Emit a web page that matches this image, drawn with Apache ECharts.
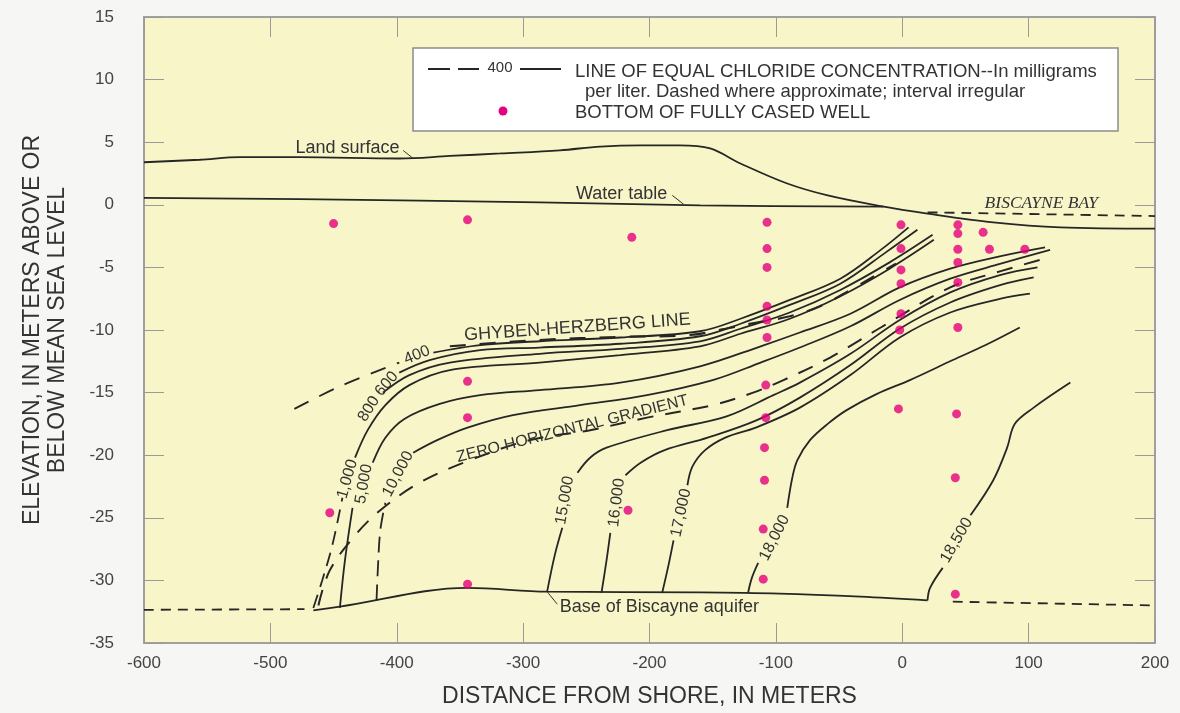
<!DOCTYPE html>
<html>
<head>
<meta charset="utf-8">
<script src="https://cdn.jsdelivr.net/npm/echarts@6/dist/echarts.min.js"></script>
<style>
  html, body { margin: 0; padding: 0; background: #f6f6f4; }
  #chart { width: 1180px; height: 713px; }
</style>
</head>
<body>
<div id="chart"></div>
<script>
// Hydrogeologic section: distance from shore (m) vs elevation (m, relative to mean sea level)

const landSurface = [[-600,3.4],[-556,3.6],[-524,3.8],[-477,3.8],[-398,3.7],[-358,3.9],[-318,4.1],[-271,4.35],[-239,4.65],[-207,4.75],[-176,4.75],[-152,4.5],[-128,3.3],[-91,1.7],[-59,0.75],[-17,-0.1],[20,-0.7],[72,-1.4],[125,-1.8],[200,-1.9]];
const waterTable = [[-600,0.55],[-477,0.45],[-287,0.2],[-160,-0.05],[-15,-0.15]];
const bayLevel = [[20,-0.6],[200,-0.9]];
const aquiferBaseWest = [[-600,-32.35],[-473,-32.3]];
const aquiferBase = [[-466,-32.4],[-445,-32.1],[-344,-30.6],[-281,-30.9],[-160,-30.95],[-97,-31.05],[-33,-31.3],[20,-31.6]];
const aquiferBaseEast = [[40,-31.7],[200,-32.0]];

// Lines of equal chloride concentration (mg/L)
const c400Approx = [[-481,-16.3],[-445,-14.5],[-398,-12.6]];
const c400 = [[-371,-11.8],[-334,-11.2],[-287,-10.9],[-223,-10.6],[-160,-10.1],[-128,-9.1],[-89,-7.6],[-49,-5.9],[-17,-3.6],[5,-1.8]];
const c600 = [[-398,-13.4],[-374,-12.4],[-334,-11.6],[-287,-11.4],[-223,-11.1],[-160,-10.5],[-128,-9.5],[-89,-8.0],[-49,-6.3],[-13,-3.8],[12,-2.0]];
const c800 = [[-411,-15.0],[-390,-13.6],[-358,-12.6],[-287,-11.9],[-223,-11.5],[-160,-10.9],[-128,-9.9],[-89,-8.6],[-49,-6.8],[-10,-4.6],[24,-2.4]];
const c1000Approx = [[-466,-32.2],[-459,-30.0],[-451,-27.2],[-443,-23.4]];
const c1000 = [[-433,-20.2],[-423,-18.0],[-409,-16.0],[-390,-14.4],[-358,-13.2],[-287,-12.6],[-223,-12.0],[-160,-11.3],[-128,-10.3],[-89,-9.1],[-49,-7.3],[-10,-5.1],[25,-2.8]];
const c5000Low = [[-445,-32.2],[-441,-28.4],[-435,-24.2]];
const c5000 = [[-419,-20.6],[-409,-18.6],[-394,-17.1],[-366,-15.9],[-334,-15.2],[-287,-14.8],[-223,-14.2],[-160,-12.9],[-112,-11.3],[-81,-10.2],[-41,-8.7],[-2,-6.6],[38,-5.1],[78,-4.1],[113,-3.4]];
const c10000Approx = [[-416,-31.6],[-415,-29.2],[-413,-26.0],[-409,-23.8]];
const c10000 = [[-387,-19.8],[-368,-18.8],[-344,-17.8],[-308,-16.8],[-255,-16.0],[-202,-15.2],[-150,-14.0],[-112,-12.6],[-81,-11.4],[-41,-9.7],[-2,-7.6],[38,-5.9],[78,-4.7],[117,-3.6]];
const c15000Low = [[-281,-30.9],[-275,-28.0],[-269,-25.8]];
const c15000 = [[-257,-21.4],[-247,-20.2],[-234,-19.4],[-186,-18.0],[-139,-16.9],[-102,-15.2],[-81,-14.2],[-41,-11.9],[-2,-9.2],[38,-7.0],[78,-5.6],[107,-5.0]];
const c16000Low = [[-238,-31.0],[-234,-28.4],[-231,-26.2]];
const c16000 = [[-219,-21.6],[-207,-20.6],[-188,-19.6],[-154,-18.6],[-115,-17.2],[-81,-15.4],[-41,-12.8],[-2,-9.9],[38,-7.8],[78,-6.4],[104,-5.8]];
const c17000Low = [[-190,-31.0],[-185,-28.8],[-181,-26.8]];
const c17000 = [[-170,-22.4],[-166,-20.9],[-156,-19.6],[-140,-18.6],[-116,-17.8],[-81,-16.2],[-41,-13.6],[-2,-10.6],[38,-8.6],[78,-7.5],[101,-7.1]];
const c18000Low = [[-122,-31.0],[-119,-29.8],[-114,-28.6]];
const c18000 = [[-91,-24.2],[-87,-21.8],[-83,-20.4],[-73,-18.8],[-59,-17.5],[-44,-16.4],[-20,-15.1],[6,-14.0],[40,-12.4],[66,-11.2],[93,-9.8]];
const c18500Low = [[20,-31.6],[22,-30.6],[32,-29.0]];
const c18500 = [[54,-24.8],[72,-22.0],[83,-19.4],[89,-17.5],[104,-16.2],[133,-14.2]];

const ghybenHerzberg = [[-358,-11.3],[-287,-10.8],[-223,-10.55],[-168,-10.4],[-140,-9.9],[-115,-9.4],[-89,-8.9],[-65,-8.1],[-41,-6.8],[-17,-5.4],[-5,-4.7]];
const zeroGradient = [[-462,-32.0],[-453,-29.2],[-433,-26.4],[-413,-24.4],[-382,-22.2],[-342,-20.4],[-295,-18.8],[-247,-18.0],[-202,-17.0],[-150,-16.0],[-118,-15.0],[-94,-14.0],[-57,-12.2],[-17,-9.8],[38,-6.6],[78,-5.3],[109,-4.4]];

// Bottoms of fully cased wells
const wells = [[-450,-1.5],[-344,-1.2],[-214,-2.6],[-344,-14.1],[-344,-17.0],[-344,-30.3],[-453,-24.6],[-217,-24.4],
  [-107,-1.4],[-107,-3.5],[-107,-5.0],[-107,-8.1],[-107,-9.2],[-107,-10.6],[-108,-14.4],[-108,-17.0],[-109,-19.4],[-109,-22.0],[-110,-25.9],[-110,-29.9],
  [-1,-1.6],[-1,-3.5],[-1,-5.2],[-1,-6.3],[-1,-8.7],[-2,-10.0],[-3,-16.3],
  [44,-1.6],[44,-2.3],[44,-3.55],[44,-4.6],[44,-6.2],[44,-9.8],[43,-16.7],[42,-21.8],[42,-31.1],
  [64,-2.2],[69,-3.55],[97,-3.55]];

const contourLabels = [
  { text: '400', at: [-384, -12.0], angle: 22 },
  { text: '600', at: [-408, -14.3], angle: 50 },
  { text: '800', at: [-422, -16.3], angle: 58 },
  { text: '1,000', at: [-439, -21.9], angle: 74 },
  { text: '5,000', at: [-426, -22.3], angle: 80 },
  { text: '10,000', at: [-399, -21.5], angle: 62 },
  { text: '15,000', at: [-267, -23.6], angle: 80 },
  { text: '16,000', at: [-226, -23.8], angle: 83 },
  { text: '17,000', at: [-175, -24.6], angle: 78 },
  { text: '18,000', at: [-101, -26.6], angle: 63 },
  { text: '18,500', at: [43, -26.8], angle: 60 }
];
const featureLabels = [
  { text: 'GHYBEN-HERZBERG LINE', at: [-257, -9.8], angle: 4, size: 18 },
  { text: 'ZERO HORIZONTAL GRADIENT', at: [-261, -17.9], angle: 14, size: 16 },
  { text: 'Land surface', at: [-439, 4.5], angle: 0, size: 18 },
  { text: 'Water table', at: [-222, 0.9], angle: 0, size: 18 },
  { text: 'BISCAYNE BAY', at: [110, 0.1], angle: 0, size: 17.5, serif: true },
  { text: 'Base of Biscayne aquifer', at: [-271, -32.1], angle: 0, size: 18, left: true }
];
const leaders = [
  [[-395, 4.35], [-387, 3.7]],
  [[-182, 0.76], [-173, 0.04]],
  [[-281, -30.9], [-273, -31.9]]
];

const INK = '#262626';
const TEXT = '#333333';
const PINK = '#e5007d';
const SANS = '"Liberation Sans", Arial, Helvetica, sans-serif';

function solid(data, w) {
  return { type: 'line', data: data, smooth: 0.35, symbol: 'none', silent: true,
    lineStyle: { color: INK, width: w || 1.8 }, z: 3 };
}
function dashed(data, dash, w) {
  return { type: 'line', data: data, smooth: 0.35, symbol: 'none', silent: true,
    lineStyle: { color: INK, width: w || 1.8, type: dash }, z: 3 };
}

const axisCommon = {
  type: 'value',
  axisLine: { show: true, onZero: false, lineStyle: { color: '#9a9a9a', width: 1.5 } },
  axisTick: { show: true, inside: true, length: 20, lineStyle: { color: '#9a9a9a', width: 1 } },
  splitLine: { show: false }
};

const series = [
  solid(landSurface), solid(waterTable), dashed(bayLevel, [10, 7]),
  dashed(aquiferBaseWest, [10, 7]), solid(aquiferBase), dashed(aquiferBaseEast, [10, 7]),
  dashed(c400Approx, [16, 12]), solid(c400), solid(c600), solid(c800),
  dashed(c1000Approx, [14, 8]), solid(c1000),
  solid(c5000Low), solid(c5000),
  dashed(c10000Approx, [16, 8]), solid(c10000),
  solid(c15000Low), solid(c15000), solid(c16000Low), solid(c16000),
  solid(c17000Low), solid(c17000), solid(c18000Low), solid(c18000),
  solid(c18500Low), solid(c18500),
  dashed(ghybenHerzberg, [16, 14], 2.2), dashed(zeroGradient, [16, 12], 2),
  ...leaders.map(function (seg) { return solid(seg, 1); }),
  { type: 'scatter', data: wells, symbolSize: 9, itemStyle: { color: PINK }, z: 5, silent: true }
];

const chart = echarts.init(document.getElementById('chart'));
chart.setOption({
  animation: false,
  backgroundColor: '#f6f6f4',
  textStyle: { fontFamily: SANS },
  grid: { left: 144, right: 25, top: 17, bottom: 70, show: true,
    backgroundColor: '#f8f6c8', borderColor: '#9a9a9a', borderWidth: 1.5 },
  xAxis: [
    Object.assign({}, axisCommon, { min: -600, max: 200, interval: 100, position: 'bottom',
      axisLabel: { color: '#444', fontSize: 17, margin: 12, fontFamily: SANS },
      name: 'DISTANCE FROM SHORE, IN METERS', nameLocation: 'middle', nameGap: 42,
      nameTextStyle: { color: TEXT, fontSize: 23, fontFamily: SANS } }),
    Object.assign({}, axisCommon, { min: -600, max: 200, interval: 100, position: 'top',
      axisLabel: { show: false } })
  ],
  yAxis: [
    Object.assign({}, axisCommon, { min: -35, max: 15, interval: 5, position: 'left',
      axisLabel: { color: '#444', fontSize: 17, margin: 30, fontFamily: SANS },
      name: 'ELEVATION, IN METERS ABOVE OR\nBELOW MEAN SEA LEVEL', nameLocation: 'middle', nameGap: 74,
      nameTextStyle: { color: TEXT, fontSize: 23, lineHeight: 25, fontFamily: SANS } }),
    Object.assign({}, axisCommon, { min: -35, max: 15, interval: 5, position: 'right',
      axisLabel: { show: false } })
  ],
  series: series
});

// Annotation text placed at data positions along the lines
function px(pt) { return chart.convertToPixel({ gridIndex: 0 }, pt); }
const graphics = [];
contourLabels.forEach(function (l) {
  const p = px(l.at);
  graphics.push({ type: 'text', x: p[0], y: p[1], rotation: l.angle * Math.PI / 180, z: 10,
    style: { text: l.text, fill: TEXT, font: '16px ' + SANS, align: 'center', verticalAlign: 'middle',
      textAlign: 'center', textVerticalAlign: 'middle' } });
});
featureLabels.forEach(function (l) {
  const p = px(l.at);
  const family = l.serif ? 'italic ' + l.size + 'px "Liberation Serif", "Times New Roman", serif'
                         : l.size + 'px ' + SANS;
  const al = l.left ? 'left' : 'center';
  graphics.push({ type: 'text', x: p[0], y: p[1], rotation: l.angle * Math.PI / 180, z: 10,
    style: { text: l.text, fill: TEXT, font: family, align: al, verticalAlign: 'middle',
      textAlign: al, textVerticalAlign: 'middle' } });
});

// Explanation box
const box = { x: 413, y: 48, w: 705, h: 83 };
graphics.push(
  { type: 'rect', z: 20, shape: { x: box.x, y: box.y, width: box.w, height: box.h },
    style: { fill: '#ffffff', stroke: '#8c8c8c', lineWidth: 1.5 } },
  { type: 'line', z: 21, shape: { x1: 428, y1: 69, x2: 450, y2: 69 }, style: { stroke: INK, lineWidth: 2 } },
  { type: 'line', z: 21, shape: { x1: 458, y1: 69, x2: 479, y2: 69 }, style: { stroke: INK, lineWidth: 2 } },
  { type: 'text', z: 21, x: 500, y: 68, style: { text: '400', fill: TEXT, font: '15px ' + SANS,
      align: 'center', verticalAlign: 'middle', textAlign: 'center', textVerticalAlign: 'middle' } },
  { type: 'line', z: 21, shape: { x1: 520, y1: 69, x2: 561, y2: 69 }, style: { stroke: INK, lineWidth: 2 } },
  { type: 'text', z: 21, x: 575, y: 72, style: { text: 'LINE OF EQUAL CHLORIDE CONCENTRATION--In milligrams',
      fill: TEXT, font: '18.5px ' + SANS, align: 'left', verticalAlign: 'middle', textAlign: 'left', textVerticalAlign: 'middle' } },
  { type: 'text', z: 21, x: 585, y: 92, style: { text: 'per liter. Dashed where approximate; interval irregular',
      fill: TEXT, font: '18.5px ' + SANS, align: 'left', verticalAlign: 'middle', textAlign: 'left', textVerticalAlign: 'middle' } },
  { type: 'circle', z: 21, shape: { cx: 503, cy: 111, r: 4.5 }, style: { fill: PINK } },
  { type: 'text', z: 21, x: 575, y: 113, style: { text: 'BOTTOM OF FULLY CASED WELL',
      fill: TEXT, font: '18.5px ' + SANS, align: 'left', verticalAlign: 'middle', textAlign: 'left', textVerticalAlign: 'middle' } }
);
chart.setOption({ graphic: graphics });
</script>
</body>
</html>
